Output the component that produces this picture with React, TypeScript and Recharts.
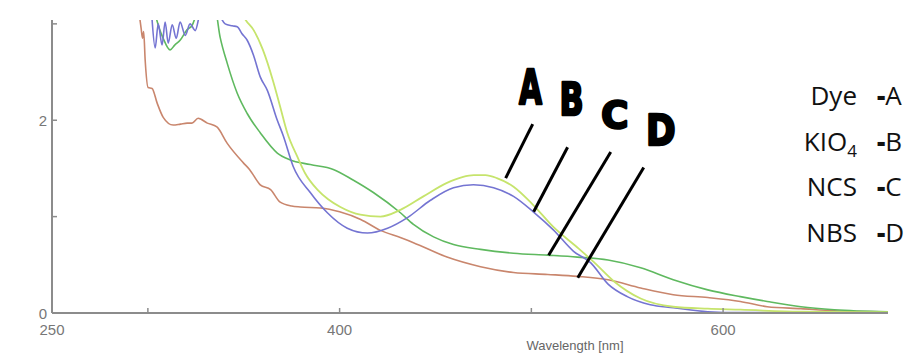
import { LineChart, Line, XAxis, YAxis, ReferenceLine, ReferenceDot } from 'recharts';

// absorbance spectra (wavelength nm, absorbance)
const dyeA = [
  { nm: 348, abs: 3.15 }, { nm: 351, abs: 3.04 }, { nm: 355, abs: 2.94 }, { nm: 360, abs: 2.73 },
  { nm: 365.4, abs: 2.4 }, { nm: 369, abs: 2.14 }, { nm: 372.7, abs: 1.87 }, { nm: 378, abs: 1.62 },
  { nm: 382, abs: 1.45 }, { nm: 388.4, abs: 1.28 }, { nm: 394, abs: 1.18 }, { nm: 400.4, abs: 1.1 },
  { nm: 410.8, abs: 1.02 }, { nm: 421.3, abs: 1.0 }, { nm: 431.7, abs: 1.07 }, { nm: 443.7, abs: 1.21 },
  { nm: 456, abs: 1.35 }, { nm: 464, abs: 1.41 }, { nm: 470, abs: 1.43 }, { nm: 476, abs: 1.43 },
  { nm: 482, abs: 1.4 }, { nm: 490.7, abs: 1.31 }, { nm: 501, abs: 1.12 }, { nm: 511.6, abs: 0.89 },
  { nm: 524, abs: 0.68 }, { nm: 532.5, abs: 0.53 }, { nm: 543, abs: 0.33 }, { nm: 557, abs: 0.15 },
  { nm: 574, abs: 0.065 }, { nm: 592, abs: 0.045 }, { nm: 609, abs: 0.035 }, { nm: 640, abs: 0.013 },
  { nm: 686, abs: 0.008 },
];

const kio4B = [
  { nm: 302.2, abs: 3.04 }, { nm: 303.8, abs: 2.75 }, { nm: 305.4, abs: 3.0 }, { nm: 307.4, abs: 2.78 },
  { nm: 309, abs: 3.02 }, { nm: 310.6, abs: 2.8 }, { nm: 312.7, abs: 2.99 }, { nm: 314.8, abs: 2.85 },
  { nm: 316.8, abs: 3.02 }, { nm: 319.5, abs: 2.88 }, { nm: 322, abs: 3.0 }, { nm: 324.7, abs: 2.93 },
  { nm: 327.3, abs: 3.1 }, { nm: 335, abs: 3.15 }, { nm: 340.3, abs: 3.0 }, { nm: 344, abs: 2.98 },
  { nm: 346.6, abs: 2.97 }, { nm: 349, abs: 2.9 }, { nm: 351.8, abs: 2.83 }, { nm: 355, abs: 2.68 },
  { nm: 358.6, abs: 2.45 }, { nm: 362.3, abs: 2.31 }, { nm: 367.5, abs: 2.0 }, { nm: 370.6, abs: 1.84 },
  { nm: 375.8, abs: 1.52 }, { nm: 384.7, abs: 1.25 }, { nm: 393.6, abs: 1.04 }, { nm: 404, abs: 0.88 },
  { nm: 414.5, abs: 0.83 }, { nm: 425, abs: 0.88 }, { nm: 435.4, abs: 0.99 }, { nm: 447.4, abs: 1.17 },
  { nm: 459.4, abs: 1.3 }, { nm: 469.8, abs: 1.33 }, { nm: 480.3, abs: 1.3 }, { nm: 490.7, abs: 1.21 },
  { nm: 501, abs: 1.05 }, { nm: 511.6, abs: 0.86 }, { nm: 522, abs: 0.64 }, { nm: 531, abs: 0.52 },
  { nm: 540, abs: 0.3 }, { nm: 550, abs: 0.17 }, { nm: 562, abs: 0.086 }, { nm: 574, abs: 0.055 },
  { nm: 592, abs: 0.013 }, { nm: 609, abs: 0.004 }, { nm: 686, abs: 0.003 },
];

const ncsC = [
  { nm: 303.8, abs: 3.1 }, { nm: 306, abs: 2.95 }, { nm: 308, abs: 2.85 }, { nm: 311.6, abs: 2.73 },
  { nm: 314, abs: 2.78 }, { nm: 316.8, abs: 2.83 }, { nm: 320.5, abs: 2.94 }, { nm: 323, abs: 2.98 },
  { nm: 325.7, abs: 3.1 }, { nm: 335, abs: 3.15 }, { nm: 337.7, abs: 2.86 }, { nm: 341.4, abs: 2.59 },
  { nm: 346.6, abs: 2.28 }, { nm: 351.8, abs: 2.07 }, { nm: 358.6, abs: 1.87 }, { nm: 367.5, abs: 1.66 },
  { nm: 374, abs: 1.59 }, { nm: 384.7, abs: 1.54 }, { nm: 396.7, abs: 1.49 }, { nm: 407, abs: 1.38 },
  { nm: 417.6, abs: 1.25 }, { nm: 431.7, abs: 1.04 }, { nm: 438.5, abs: 0.92 }, { nm: 449, abs: 0.79 },
  { nm: 459.4, abs: 0.71 }, { nm: 473.5, abs: 0.66 }, { nm: 490.7, abs: 0.62 }, { nm: 508.5, abs: 0.6 },
  { nm: 524, abs: 0.58 }, { nm: 540, abs: 0.55 }, { nm: 557, abs: 0.47 }, { nm: 574, abs: 0.345 },
  { nm: 592, abs: 0.24 }, { nm: 609, abs: 0.17 }, { nm: 623, abs: 0.12 }, { nm: 640.6, abs: 0.065 },
  { nm: 658, abs: 0.034 }, { nm: 686, abs: 0.013 },
];

const nbsD = [
  { nm: 295.5, abs: 3.1 }, { nm: 296.5, abs: 2.95 }, { nm: 297.2, abs: 2.85 }, { nm: 297.8, abs: 2.92 },
  { nm: 298.6, abs: 2.62 }, { nm: 300.1, abs: 2.34 }, { nm: 302.2, abs: 2.33 }, { nm: 304.8, abs: 2.18 },
  { nm: 308, abs: 2.03 }, { nm: 313.2, abs: 1.95 }, { nm: 317, abs: 1.96 }, { nm: 320.5, abs: 1.97 },
  { nm: 323, abs: 1.97 }, { nm: 326.2, abs: 2.02 }, { nm: 331, abs: 1.97 }, { nm: 336, abs: 1.93 },
  { nm: 341.4, abs: 1.76 }, { nm: 349.7, abs: 1.56 }, { nm: 353, abs: 1.49 }, { nm: 358.6, abs: 1.33 },
  { nm: 364, abs: 1.28 }, { nm: 369, abs: 1.15 }, { nm: 375, abs: 1.11 }, { nm: 379.5, abs: 1.1 },
  { nm: 390, abs: 1.09 }, { nm: 400, abs: 1.05 }, { nm: 411, abs: 0.97 }, { nm: 421, abs: 0.86 },
  { nm: 432, abs: 0.78 }, { nm: 438.5, abs: 0.73 }, { nm: 456, abs: 0.58 }, { nm: 473.5, abs: 0.48 },
  { nm: 490.7, abs: 0.42 }, { nm: 508.5, abs: 0.4 }, { nm: 524, abs: 0.38 }, { nm: 540, abs: 0.345 },
  { nm: 557, abs: 0.26 }, { nm: 574, abs: 0.19 }, { nm: 592, abs: 0.16 }, { nm: 609, abs: 0.12 },
  { nm: 623, abs: 0.065 }, { nm: 640.6, abs: 0.045 }, { nm: 658, abs: 0.024 }, { nm: 686, abs: 0.013 },
];

const xTicks = [250, 300, 400, 500, 600];
const xLabels = [250, 400, 600];
const yTicks = [0, 1, 2, 3];
const yLabels = [0, 2];

// leader lines and letters, in data coordinates
const callouts = [
  { letter: 'A', from: [486.6, 1.4], to: [500.7, 1.96], at: [499.6, 2.34], size: 48, sx: 0.62 },
  { letter: 'B', from: [501.2, 1.05], to: [518.9, 1.72], at: [521, 2.21], size: 44, sx: 0.72 },
  { letter: 'C', from: [509, 0.6], to: [541.4, 1.67], at: [543.5, 2.05], size: 37, sx: 1.0 },
  { letter: 'D', from: [524.2, 0.366], to: [558.6, 1.51], at: [567.5, 1.89], size: 42, sx: 0.85 },
];

const legendRows = [
  { name: 'Dye', sub: '', tag: 'A' },
  { name: 'KIO', sub: '4', tag: 'B' },
  { name: 'NCS', sub: '', tag: 'C' },
  { name: 'NBS', sub: '', tag: 'D' },
];

const AXIS = '#8c8c8c';
const TICK_FONT = '"Liberation Sans Narrow", "Liberation Sans", sans-serif';

function XTick({ x, y, payload }: any) {
  const v = payload.value;
  return (
    <g>
      {v !== 250 && <line x1={x} x2={x} y1={y} y2={y - 5} stroke={AXIS} strokeWidth={1.5} />}
      {xLabels.includes(v) && (
        <text x={x} y={y + 22} textAnchor="middle" fontSize={15} fontFamily={TICK_FONT} fill="#777">
          {v}
        </text>
      )}
    </g>
  );
}

function YTick({ x, y, payload }: any) {
  const v = payload.value;
  return (
    <g>
      {v !== 0 && <line x1={x} x2={x + 5} y1={y} y2={y} stroke={AXIS} strokeWidth={1.5} />}
      {yLabels.includes(v) && (
        <text x={x - 5} y={y + 6} textAnchor="end" fontSize={15} fontFamily={TICK_FONT} fill="#777">
          {v}
        </text>
      )}
    </g>
  );
}

export default function App() {
  return (
    <div style={{ position: 'absolute', left: 0, top: 0, width: 909, height: 353, background: '#fff' }}>
      <LineChart width={909} height={353} margin={{ top: 20, right: 21, bottom: 0, left: 22 }}>
        <XAxis
          dataKey="nm"
          type="number"
          domain={[250, 686]}
          ticks={xTicks}
          allowDataOverflow
          height={40}
          tickSize={0}
          tickMargin={0}
          tick={<XTick />}
          stroke={AXIS}
          strokeWidth={2}
        />
        <YAxis
          type="number"
          domain={[0, 3.04]}
          ticks={yTicks}
          allowDataOverflow
          width={30}
          tickSize={0}
          tickMargin={0}
          tick={<YTick />}
          stroke={AXIS}
          strokeWidth={2}
        />
        <Line data={nbsD} dataKey="abs" type="monotone" stroke="#c9866d" strokeWidth={1.6} dot={false} isAnimationActive={false} />
        <Line data={ncsC} dataKey="abs" type="monotone" stroke="#5fb95f" strokeWidth={1.6} dot={false} isAnimationActive={false} />
        <Line data={kio4B} dataKey="abs" type="monotone" stroke="#7474d2" strokeWidth={1.6} dot={false} isAnimationActive={false} />
        <Line data={dyeA} dataKey="abs" type="monotone" stroke="#c6e46c" strokeWidth={1.8} dot={false} isAnimationActive={false} />
        {callouts.map((c) => (
          <ReferenceLine
            key={'l' + c.letter}
            segment={[{ x: c.from[0], y: c.from[1] }, { x: c.to[0], y: c.to[1] }]}
            stroke="#000"
            strokeWidth={3}
            ifOverflow="visible"
          />
        ))}
        {callouts.map((c) => (
          <ReferenceDot
            key={'d' + c.letter}
            x={c.at[0]}
            y={c.at[1]}
            r={0}
            ifOverflow="visible"
            shape={(p: any) => (
              <text
                transform={`translate(${p.cx},${p.cy}) scale(${c.sx},1)`}
                textAnchor="middle"
                dominantBaseline="central"
                fontSize={c.size}
                fontWeight={900}
                fontFamily='"DejaVu Sans", sans-serif'
                fill="#000"
                stroke="#000"
                strokeWidth={2.5}
                strokeLinejoin="round"
              >
                {c.letter}
              </text>
            )}
          />
        ))}
      </LineChart>
      <svg width={909} height={353} style={{ position: 'absolute', left: 0, top: 0, pointerEvents: 'none' }}>
        <text x={575} y={350} textAnchor="middle" fontSize={13} fontFamily={TICK_FONT} fill="#666">
          Wavelength [nm]
        </text>
        {legendRows.map((r, i) => (
          <g key={r.tag} fontFamily='"Open Sans", sans-serif' fontSize={26} fill="#111">
            <text x={857} y={105 + i * 45.5} textAnchor="end">
              {r.name}
              {r.sub && <tspan fontSize={17} dy={6}>{r.sub}</tspan>}
            </text>
            <text x={877} y={105 + i * 45.5}>
              <tspan fontWeight={800}>-</tspan>
              {r.tag}
            </text>
          </g>
        ))}
      </svg>
    </div>
  );
}
